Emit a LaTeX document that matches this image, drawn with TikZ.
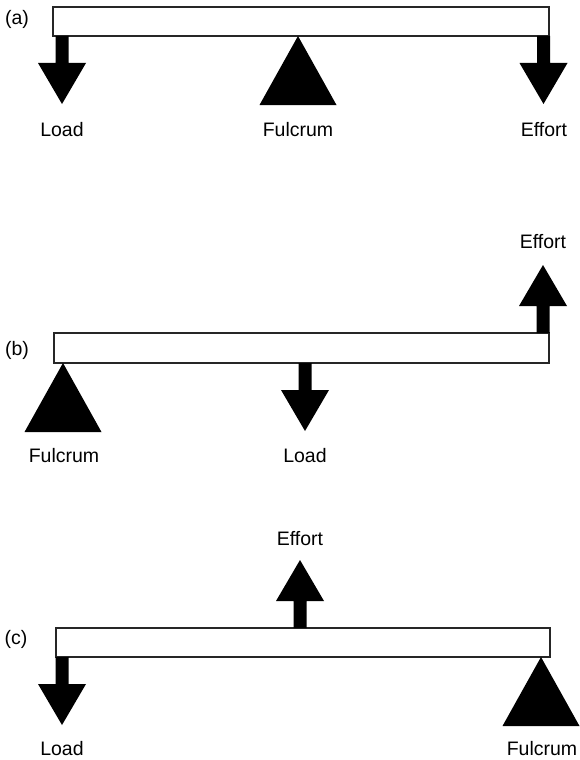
\documentclass[tikz,border=0pt]{standalone}
\usepackage{fontspec}
\setmainfont{Liberation Sans}
\begin{document}
\begin{tikzpicture}[x=1pt,y=-1pt,
  beam/.style={draw=black!85,line width=1.1pt,fill=white},
  lbl/.style={anchor=base,font=\fontsize{19.5}{21}\selectfont,inner sep=0pt},
  pics/downarr/.style={code={\fill (-6.5,0) -- (-6.5,27) -- (-24,27) -- (0,68) -- (24,27) -- (6.5,27) -- (6.5,0) -- cycle;}},
  pics/uparr/.style={code={\fill (-6.5,0) -- (-6.5,-27) -- (-24,-27) -- (0,-68) -- (24,-27) -- (6.5,-27) -- (6.5,0) -- cycle;}},
  pics/fulcrum/.style={code={\fill (0,0) -- (-38.5,69) -- (38.5,69) -- cycle;}}
]
\useasboundingbox (0,0) rectangle (579,760);

% ---------- (a) ----------
\node[lbl] (la) at (17,25) {(a)};
\draw[beam] (53,7) rectangle (549,36);
\coordinate (aload) at (62,36);
\coordinate (afulc) at (298,36);
\coordinate (aeff) at (543.5,36);
\pic at (aload) {downarr};
\pic at (afulc) {fulcrum};
\pic at (aeff) {downarr};
\node[lbl] (aloadt) at (62,136) {Load};
\node[lbl] (afulct) at (298,136) {Fulcrum};
\node[lbl] (aefft) at (544,136) {Effort};

% ---------- (b) ----------
\node[lbl] (lb) at (17,355) {(b)};
\draw[beam] (54,333) rectangle (549,363);
\coordinate (bfulc) at (63,363);
\coordinate (bload) at (305,363);
\coordinate (beff) at (543,333);
\pic at (bfulc) {fulcrum};
\pic at (bload) {downarr};
\pic at (beff) {uparr};
\node[lbl] (bfulct) at (64,462) {Fulcrum};
\node[lbl] (bloadt) at (305,462) {Load};
\node[lbl] (befft) at (543,248) {Effort};

% ---------- (c) ----------
\node[lbl] (lc) at (16,644) {(c)};
\draw[beam] (56,628) rectangle (550,657);
\coordinate (cload) at (62,657);
\coordinate (ceff) at (300,628);
\coordinate (cfulc) at (541,657);
\pic at (cload) {downarr};
\pic at (ceff) {uparr};
\pic at (cfulc) {fulcrum};
\node[lbl] (cloadt) at (62,755) {Load};
\node[lbl] (cefft) at (300,545) {Effort};
\node[lbl] (cfulct) at (542,755) {Fulcrum};
\end{tikzpicture}
\end{document}
